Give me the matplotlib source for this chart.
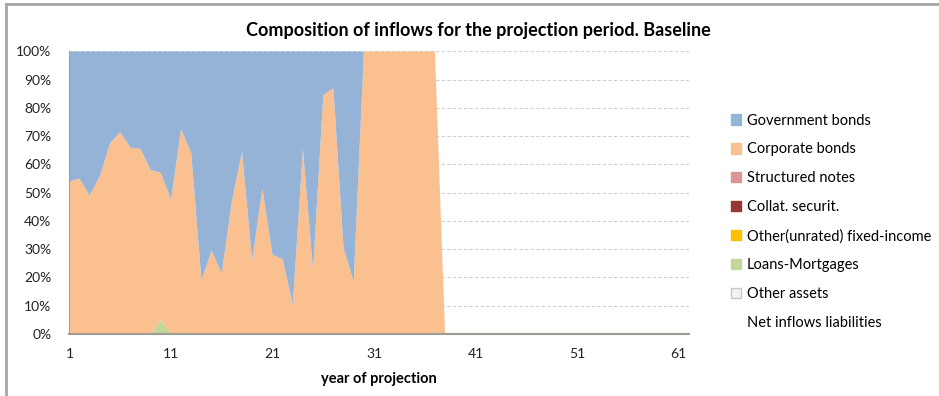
import matplotlib
matplotlib.use("Agg")
import matplotlib.pyplot as plt
from matplotlib.patches import Patch
from matplotlib.lines import Line2D
from matplotlib.ticker import PercentFormatter

plt.rcParams['font.family'] = ['Lato', 'DejaVu Sans']

# data (percent of inflows, years 1..62)
years = list(range(1, 63))

government = [46, 45, 51, 44, 32.5, 28.5, 34, 34.5, 42, 43,
              52.5, 27.5, 36, 81, 70.5, 78.5, 53, 35.5, 74, 48.5,
              72, 73.5, 89.5, 34.5, 77.5, 15.5, 13, 69.5, 81.5, 0,
              0, 0, 0, 0, 0, 0, 0, 0, 0, 0,
              0, 0, 0, 0, 0, 0, 0, 0, 0, 0,
              0, 0, 0, 0, 0, 0, 0, 0, 0, 0,
              0, 0]
corporate = [54, 55, 49, 56, 67.5, 71.5, 66, 65.5, 58, 52,
             47.5, 72.5, 64, 19, 29.5, 21.5, 47, 64.5, 26, 51.5,
             28, 26.5, 10.5, 65.5, 22.5, 84.5, 87, 30.5, 18.5, 100,
             100, 100, 100, 100, 100, 100, 100, 0, 0, 0,
             0, 0, 0, 0, 0, 0, 0, 0, 0, 0,
             0, 0, 0, 0, 0, 0, 0, 0, 0, 0,
             0, 0]
structured = [0] * 62
collat = [0] * 62
other_unrated = [0] * 62
loans = [0, 0, 0, 0, 0, 0, 0, 0, 0, 5,
         0, 0, 0, 0, 0, 0, 0, 0, 0, 0,
         0, 0, 0, 0, 0, 0, 0, 0, 0, 0,
         0, 0, 0, 0, 0, 0, 0, 0, 0, 0,
         0, 0, 0, 0, 0, 0, 0, 0, 0, 0,
         0, 0, 0, 0, 0, 0, 0, 0, 0, 0,
         0, 0]
other_assets = [0] * 62

labels = ['Government bonds', 'Corporate bonds', 'Structured notes',
          'Collat. securit.', 'Other(unrated) fixed-income',
          'Loans-Mortgages', 'Other assets', 'Net inflows liabilities']
colors = ['#95B3D7', '#FAC090', '#D99694', '#953735', '#FFC000',
          '#C3D69B', '#F2F2F2']

fig = plt.figure(figsize=(9.39, 3.96), dpi=100)
ax = fig.add_axes([0.074, 0.1566, 0.6594, 0.7134])

# bottom-up stacking: loans at the bottom, government bonds on top
ax.stackplot(years,
             loans, other_unrated, collat, structured, other_assets, corporate, government,
             colors=[colors[5], colors[4], colors[3], colors[2], colors[6], colors[1], colors[0]],
             linewidth=0, zorder=2)

ax.set_xlim(1, 62)
ax.set_ylim(0, 100)
ax.set_yticks(range(0, 101, 10))
ax.yaxis.set_major_formatter(PercentFormatter(decimals=0))
ax.set_xticks(range(1, 62, 10))
ax.tick_params(length=0, labelsize=10, colors='#222222')
ax.tick_params(axis='x', pad=10)
ax.tick_params(axis='y', pad=13)
ax.grid(axis='y', color='#D0D0D0', linestyle=(0, (3, 2)), linewidth=0.8, zorder=0)
ax.set_axisbelow(True)

for s in ['top', 'right']:
    ax.spines[s].set_visible(False)
ax.spines['left'].set_color('#A0A0A0')
ax.spines['bottom'].set_color('#A09C94')
ax.spines['bottom'].set_linewidth(1.5)
ax.spines['left'].set_zorder(3)
ax.spines['bottom'].set_zorder(3)

ax.set_title('Composition of inflows for the projection period. Baseline',
             fontsize=13, fontweight='bold', pad=11, x=0.66)
ax.set_xlabel('year of projection', fontsize=10.5, fontweight='bold', labelpad=8.5)

handles = [Patch(facecolor=c, edgecolor=('#C8C8C8' if c == '#F2F2F2' else c))
           for c in colors]
handles.append(Patch(facecolor='none', edgecolor='none'))
fig.legend(handles, labels, loc='upper left', bbox_to_anchor=(0.772, 0.728),
           frameon=False, fontsize=10.5, handlelength=0.72, handleheight=0.72,
           handletextpad=0.4, labelspacing=1.02, borderaxespad=0)

# chart border lines (left and top)
fig.add_artist(Line2D([0.0064, 0.0064], [0, 0.99], transform=fig.transFigure,
                      color='#A6A6A6', linewidth=2))
fig.add_artist(Line2D([0.0064, 1], [0.99, 0.99], transform=fig.transFigure,
                      color='#A6A6A6', linewidth=2))

fig.savefig('out.png', dpi=100)
